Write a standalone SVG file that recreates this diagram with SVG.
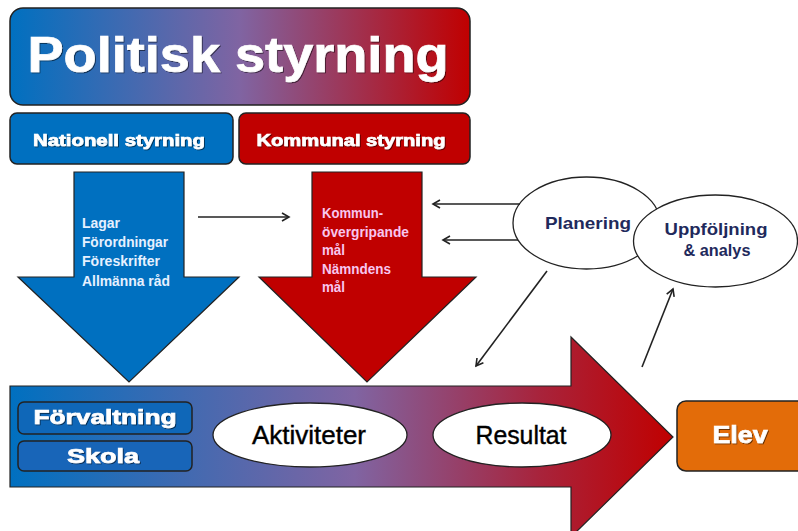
<svg xmlns="http://www.w3.org/2000/svg" width="798" height="531" viewBox="0 0 798 531">
<defs>
<linearGradient id="gTop" gradientUnits="userSpaceOnUse" x1="10" y1="0" x2="470" y2="0">
<stop offset="0" stop-color="#0070c0"/><stop offset="0.5" stop-color="#8064a2"/><stop offset="1" stop-color="#c00000"/>
</linearGradient>
<linearGradient id="gBig" gradientUnits="userSpaceOnUse" x1="10" y1="0" x2="673" y2="0">
<stop offset="0" stop-color="#0070c0"/><stop offset="0.52" stop-color="#8064a2"/><stop offset="0.8" stop-color="#a8233b"/><stop offset="1" stop-color="#c00000"/>
</linearGradient>
<filter id="ts" x="-10%" y="-20%" width="120%" height="140%">
<feDropShadow dx="1" dy="1" stdDeviation="0.6" flood-color="#000" flood-opacity="0.55"/>
</filter>
<marker id="ah" markerUnits="userSpaceOnUse" markerWidth="12" markerHeight="12" refX="8" refY="5" orient="auto">
<path d="M1,1 L8,5 L1,9" fill="none" stroke="#222" stroke-width="1.6"/>
</marker>
</defs>
<style>
.box{stroke:#222;stroke-width:1.5}
.shape{stroke:#222;stroke-width:1.2}
.wb{font-family:"Liberation Sans",Arial,sans-serif;font-weight:bold;fill:#fff;stroke:#fff;stroke-width:0.7;text-anchor:middle}
.sm{font-family:"Liberation Sans",Arial,sans-serif;font-weight:bold;font-size:14px}
.nav{font-family:"Liberation Sans",Arial,sans-serif;font-weight:bold;font-size:17px;fill:#1f2a5c;text-anchor:middle}
.blk{font-family:"Liberation Sans",Arial,sans-serif;font-size:25px;fill:#000;stroke:#000;stroke-width:0.4;text-anchor:middle}
.ell{fill:#fff;stroke:#222;stroke-width:1.3}
.con{fill:none;stroke:#222;stroke-width:1.6;marker-end:url(#ah)}
</style>
<rect width="798" height="531" fill="#fff"/>

<g id="politisk-styrning">
<rect class="box" x="10" y="8" width="460" height="97" rx="13" fill="url(#gTop)"/>
<text class="wb" x="238" y="72" font-size="50" stroke-width="1.4" textLength="421" lengthAdjust="spacingAndGlyphs" filter="url(#ts)">Politisk styrning</text>
</g>
<g id="nationell-styrning">
<rect class="box" x="10" y="113" width="223" height="51" rx="7" fill="#0070c0"/>
<text class="wb" x="119" y="146" font-size="17" textLength="172" lengthAdjust="spacingAndGlyphs" filter="url(#ts)">Nationell styrning</text>
</g>
<g id="kommunal-styrning">
<rect class="box" x="239" y="113" width="231" height="51" rx="7" fill="#c00000"/>
<text class="wb" x="351" y="146" font-size="17" textLength="189" lengthAdjust="spacingAndGlyphs" filter="url(#ts)">Kommunal styrning</text>
</g>

<g id="nationell-pil">
<polygon class="shape" points="74,172 184,172 184,277 239,277 129,382 18,277 74,277" fill="#0070c0"/>
<g class="sm" fill="#e6f0ff">
<text x="82" y="228" textLength="38" lengthAdjust="spacingAndGlyphs">Lagar</text>
<text x="82" y="247" textLength="86" lengthAdjust="spacingAndGlyphs">Förordningar</text>
<text x="82" y="266" textLength="78" lengthAdjust="spacingAndGlyphs">Föreskrifter</text>
<text x="82" y="286" textLength="88" lengthAdjust="spacingAndGlyphs">Allmänna råd</text>
</g>
</g>

<g id="kommunal-pil">
<polygon class="shape" points="312,172 422,172 422,277 476,277 367,382 259,277 312,277" fill="#c00000"/>
<g class="sm" fill="#f7c6ef">
<text x="322" y="218" textLength="61" lengthAdjust="spacingAndGlyphs">Kommun-</text>
<text x="322" y="237" textLength="87" lengthAdjust="spacingAndGlyphs">övergripande</text>
<text x="322" y="255" textLength="23" lengthAdjust="spacingAndGlyphs">mål</text>
<text x="322" y="274" textLength="69" lengthAdjust="spacingAndGlyphs">Nämndens</text>
<text x="322" y="292" textLength="23" lengthAdjust="spacingAndGlyphs">mål</text>
</g>
</g>

<g id="verksamhet-pil">
<polygon class="shape" points="10,386 571,386 571,337 673,437 571,537 571,487 10,487" fill="url(#gBig)"/>
</g>
<g id="forvaltning">
<rect class="box" x="18" y="402" width="174" height="32" rx="6" fill="#0f67b8"/>
<text class="wb" x="105" y="424" font-size="20" textLength="143" lengthAdjust="spacingAndGlyphs" filter="url(#ts)">Förvaltning</text>
</g>
<g id="skola">
<rect class="box" x="18" y="441" width="174" height="30" rx="6" fill="#1865b8"/>
<text class="wb" x="103" y="463" font-size="20" textLength="72" lengthAdjust="spacingAndGlyphs" filter="url(#ts)">Skola</text>
</g>
<g id="aktiviteter">
<ellipse class="ell" cx="310" cy="435" rx="97" ry="32"/>
<text class="blk" x="309" y="444" textLength="114" lengthAdjust="spacingAndGlyphs">Aktiviteter</text>
</g>
<g id="resultat">
<ellipse class="ell" cx="522" cy="435" rx="89" ry="32"/>
<text class="blk" x="521" y="444" textLength="91" lengthAdjust="spacingAndGlyphs">Resultat</text>
</g>
<g id="elev">
<rect class="box" x="677" y="401" width="130" height="70" rx="9" fill="#e36c09"/>
<text class="wb" x="740" y="443" font-size="24" textLength="55" lengthAdjust="spacingAndGlyphs" filter="url(#ts)">Elev</text>
</g>

<g id="planering">
<ellipse class="ell" cx="586.5" cy="223" rx="73.5" ry="46"/>
<text class="nav" x="588" y="229" textLength="86" lengthAdjust="spacingAndGlyphs">Planering</text>
</g>
<g id="uppfoljning">
<ellipse class="ell" cx="715.5" cy="241" rx="82" ry="46"/>
<text class="nav" x="716" y="235" textLength="103" lengthAdjust="spacingAndGlyphs">Uppföljning</text>
<text class="nav" x="717" y="256" textLength="67" lengthAdjust="spacingAndGlyphs">&amp; analys</text>
</g>

<g id="connectors">
<line class="con" x1="198" y1="217" x2="289" y2="217"/>
<line class="con" x1="520" y1="204" x2="433" y2="204"/>
<line class="con" x1="518" y1="240" x2="443" y2="240"/>
<line class="con" x1="547" y1="271" x2="476" y2="366"/>
<line class="con" x1="642" y1="367" x2="673" y2="289"/>
</g>
</svg>
